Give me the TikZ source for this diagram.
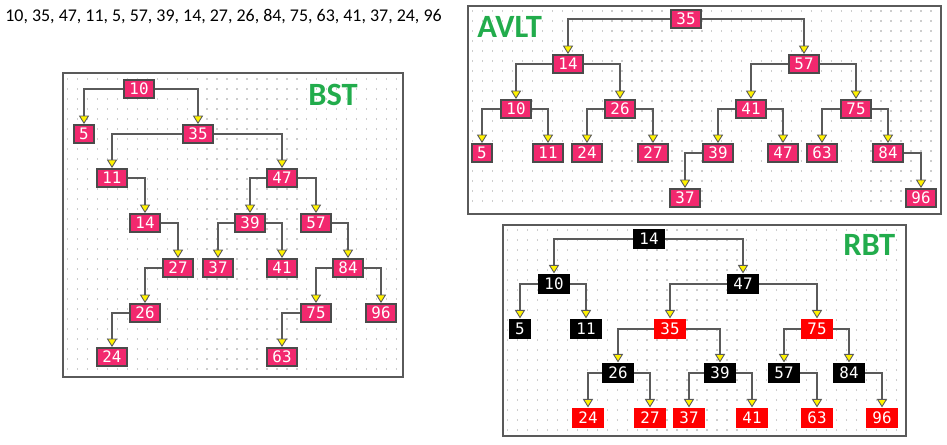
\documentclass[tikz,border=0pt]{standalone}
\usepackage{fontspec}
\setmainfont{Carlito}
\newfontfamily\nodefont{DejaVu Sans Mono}
\usetikzlibrary{arrows.meta,positioning}

\definecolor{nodepink}{RGB}{242,40,110}
\definecolor{boxgray}{RGB}{75,75,75}
\definecolor{linegray}{RGB}{90,90,90}
\definecolor{dotgray}{RGB}{205,205,205}
\definecolor{labelgreen}{RGB}{34,172,76}

\begin{document}
\begin{tikzpicture}[
    x=0.02cm,y=-0.02cm,
    pk/.style={rectangle,draw=boxgray,line width=1.1pt,fill=nodepink,text=white,font=\nodefont\fontsize{9}{9}\selectfont,minimum height=0.36cm,inner xsep=3.1pt,inner ysep=0pt},
    blk/.style={rectangle,fill=black,text=white,font=\nodefont\fontsize{9}{9}\selectfont,minimum height=0.41cm,inner xsep=3.6pt,inner ysep=0pt},
    rd/.style={blk,fill=red},
    edge/.style={draw=linegray,line width=1.1pt,-{Triangle[width=5.8pt,length=4.8pt,fill=yellow,line width=0.5pt]}},
    frame/.style={draw=linegray,line width=0.9pt},
    dots/.style={draw=dotgray,line width=0.8pt,dash pattern=on 0.8pt off 4.87pt},
    title/.style={font=\bfseries\fontsize{18.5}{20}\selectfont,text=labelgreen,inner sep=0pt,anchor=base west}
]
    \useasboundingbox (0,0) rectangle (947,444);

    % input sequence
    \node[anchor=base west,inner sep=0pt,font=\fontsize{10.2}{12}\selectfont] (seq) at (5,21) {10, 35, 47, 11, 5, 57, 39, 14, 27, 26, 84, 75, 63, 41, 37, 24, 96};

    % dotted backgrounds and frames
    \foreach \y in {79,89,...,373} \draw[dots] (67,\y) -- (401,\y);
    \foreach \y in {11,21,...,210} \draw[dots] (472,\y) -- (939,\y);
    \foreach \y in {230,240,...,433} \draw[dots] (507,\y) -- (904,\y);
    \draw[frame] (63,73) rectangle (403,377);
    \draw[frame] (468,6) rectangle (941,214);
    \draw[frame] (503,225) rectangle (906,436);

    % BST
    \node[title] (bst) at (308,105) {BST};
    \node[pk] (b10) at (139,89) {10};
    \node[pk] (b5) at (84,134) {5};
    \node[pk] (b35) at (198,134) {35};
    \node[pk] (b11) at (112,178) {11};
    \node[pk] (b47) at (282,178) {47};
    \node[pk] (b14) at (145,223) {14};
    \node[pk] (b39) at (250,223) {39};
    \node[pk] (b57) at (316,223) {57};
    \node[pk] (b27) at (178,268) {27};
    \node[pk] (b37) at (218,268) {37};
    \node[pk] (b41) at (282,268) {41};
    \node[pk] (b84) at (348,268) {84};
    \node[pk] (b26) at (145,313) {26};
    \node[pk] (b75) at (316,313) {75};
    \node[pk] (b96) at (381,313) {96};
    \node[pk] (b24) at (112,357) {24};
    \node[pk] (b63) at (282,357) {63};

    \draw[edge] (b10.west) -| (b5.north);
    \draw[edge] (b10.east) -| (b35.north);
    \draw[edge] (b35.west) -| (b11.north);
    \draw[edge] (b35.east) -| (b47.north);
    \draw[edge] (b11.east) -| (b14.north);
    \draw[edge] (b47.west) -| (b39.north);
    \draw[edge] (b47.east) -| (b57.north);
    \draw[edge] (b14.east) -| (b27.north);
    \draw[edge] (b39.west) -| (b37.north);
    \draw[edge] (b39.east) -| (b41.north);
    \draw[edge] (b57.east) -| (b84.north);
    \draw[edge] (b27.west) -| (b26.north);
    \draw[edge] (b84.west) -| (b75.north);
    \draw[edge] (b84.east) -| (b96.north);
    \draw[edge] (b26.west) -| (b24.north);
    \draw[edge] (b75.west) -| (b63.north);

    % AVLT
    \node[title] (avlt) at (477,37) {AVLT};
    \node[pk] (a35) at (686,19) {35};
    \node[pk] (a14) at (568,64) {14};
    \node[pk] (a57) at (804,64) {57};
    \node[pk] (a10) at (516,109) {10};
    \node[pk] (a26) at (620,109) {26};
    \node[pk] (a41) at (751,109) {41};
    \node[pk] (a75) at (856,109) {75};
    \node[pk] (a5) at (482,153) {5};
    \node[pk] (a11) at (548,153) {11};
    \node[pk] (a24) at (587,153) {24};
    \node[pk] (a27) at (653,153) {27};
    \node[pk] (a39) at (718,153) {39};
    \node[pk] (a47) at (783,153) {47};
    \node[pk] (a63) at (822,153) {63};
    \node[pk] (a84) at (888,153) {84};
    \node[pk] (a37) at (685,198) {37};
    \node[pk] (a96) at (921,198) {96};

    \draw[edge] (a35.west) -| (a14.north);
    \draw[edge] (a35.east) -| (a57.north);
    \draw[edge] (a14.west) -| (a10.north);
    \draw[edge] (a14.east) -| (a26.north);
    \draw[edge] (a57.west) -| (a41.north);
    \draw[edge] (a57.east) -| (a75.north);
    \draw[edge] (a10.west) -| (a5.north);
    \draw[edge] (a10.east) -| (a11.north);
    \draw[edge] (a26.west) -| (a24.north);
    \draw[edge] (a26.east) -| (a27.north);
    \draw[edge] (a41.west) -| (a39.north);
    \draw[edge] (a41.east) -| (a47.north);
    \draw[edge] (a75.west) -| (a63.north);
    \draw[edge] (a75.east) -| (a84.north);
    \draw[edge] (a39.west) -| (a37.north);
    \draw[edge] (a84.east) -| (a96.north);

    % RBT
    \node[title] (rbt) at (843,255) {RBT};
    \node[blk] (r14) at (649,239) {14};
    \node[blk] (r10) at (554,284) {10};
    \node[blk] (r47) at (743,284) {47};
    \node[blk] (r5) at (520,329) {5};
    \node[blk] (r11) at (586,329) {11};
    \node[rd] (r35) at (670,329) {35};
    \node[rd] (r75) at (817,329) {75};
    \node[blk] (r26) at (618,373) {26};
    \node[blk] (r39) at (720,373) {39};
    \node[blk] (r57) at (784,373) {57};
    \node[blk] (r84) at (849,373) {84};
    \node[rd] (r24) at (588,418) {24};
    \node[rd] (r27) at (650,418) {27};
    \node[rd] (r37) at (689,418) {37};
    \node[rd] (r41) at (752,418) {41};
    \node[rd] (r63) at (817,418) {63};
    \node[rd] (r96) at (882,418) {96};

    \draw[edge] (r14.west) -| (r10.north);
    \draw[edge] (r14.east) -| (r47.north);
    \draw[edge] (r10.west) -| (r5.north);
    \draw[edge] (r10.east) -| (r11.north);
    \draw[edge] (r47.west) -| (r35.north);
    \draw[edge] (r47.east) -| (r75.north);
    \draw[edge] (r35.west) -| (r26.north);
    \draw[edge] (r35.east) -| (r39.north);
    \draw[edge] (r75.west) -| (r57.north);
    \draw[edge] (r75.east) -| (r84.north);
    \draw[edge] (r26.west) -| (r24.north);
    \draw[edge] (r26.east) -| (r27.north);
    \draw[edge] (r39.west) -| (r37.north);
    \draw[edge] (r39.east) -| (r41.north);
    \draw[edge] (r57.east) -| (r63.north);
    \draw[edge] (r84.east) -| (r96.north);
\end{tikzpicture}
\end{document}
